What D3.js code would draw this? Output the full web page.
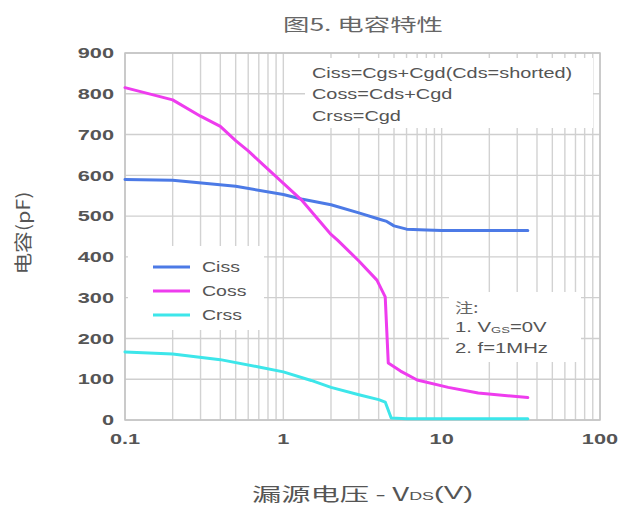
<!DOCTYPE html>
<html><head><meta charset="utf-8">
<script src="https://cdn.jsdelivr.net/npm/d3@7"></script>
<style>
html,body{margin:0;padding:0;background:#fff;}
svg{display:block;}
</style></head>
<body>
<script>
// ---- data ----
const voltage_ciss = [0.1, 0.2, 0.5, 1, 1.3, 2, 3, 4, 4.5, 5, 6, 8, 10, 20, 35];
const ciss =         [590, 588, 573, 553, 542, 528, 508, 493, 487, 476, 468, 466, 465, 465, 465];
const voltage_coss = [0.1, 0.2, 0.3, 0.4, 0.5, 0.6, 0.75, 0.9, 1.3, 2, 2.2, 3, 3.9, 4.4, 4.6, 5.5, 7, 11, 17, 35];
const coss =         [815, 785, 745, 720, 685, 660, 625, 597, 540, 455, 441, 390, 343, 302, 140, 120, 98, 80, 66, 55];
const voltage_crss = [0.1, 0.2, 0.4, 0.7, 1, 1.5, 2, 3, 4, 4.4, 4.8, 6, 35];
const crss =         [167, 162, 148, 130, 118, 97, 80, 62, 50, 44, 5, 3, 3];
const seriesNames = ["Ciss", "Coss", "Crss"];
const xTickValues = [0.1, 1, 10, 100];
const xTickLabels = ["0.1", "1", "10", "100"];
const yTickValues = [0, 100, 200, 300, 400, 500, 600, 700, 800, 900];
const equations = ["Ciss=Cgs+Cgd(Cds=shorted)", "Coss=Cds+Cgd", "Crss=Cgd"];
const title = "图5. 电容特性";
const yLabel = "电容(pF)";

const W = 622, H = 509;
const colors = ["#4c7ae6", "#ee3cee", "#3de6ea"];
const LAT = "'Liberation Sans', Arial, sans-serif";
const CJK = "'Noto Sans CJK SC', 'Liberation Sans', sans-serif";

const svg = d3.select("body").append("svg").attr("width", W).attr("height", H);
const x = d3.scaleLog().domain([0.1, 100]).range([125, 600]);
const y = d3.scaleLinear().domain([0, 900]).range([420, 53]);

// grid
const minor = [];
[0.1, 1, 10].forEach(d => { for (let k = 1; k <= 9; k++) minor.push(+(d * k).toPrecision(3)); });
minor.push(100);
const grid = svg.append("g");
grid.selectAll("line.v").data(minor).join("line")
  .attr("x1", d => x(d)).attr("x2", d => x(d)).attr("y1", y(900)).attr("y2", y(0))
  .attr("stroke", "#d2d2d2").attr("stroke-width", 1.4);
grid.selectAll("line.h").data(yTickValues).join("line")
  .attr("x1", x(0.1)).attr("x2", x(100)).attr("y1", d => y(d)).attr("y2", d => y(d))
  .attr("stroke", "#cfcfcf").attr("stroke-width", 1.4);
svg.append("rect").attr("x", x(0.1)).attr("y", y(900)).attr("width", x(100) - x(0.1)).attr("height", y(0) - y(900))
  .attr("fill", "none").attr("stroke", "#c4c4c4").attr("stroke-width", 1.5);

// white boxes
svg.append("rect").attr("x", 305).attr("y", 58).attr("width", 288).attr("height", 70).attr("fill", "#fff");
svg.append("rect").attr("x", 128).attr("y", 246).attr("width", 136).attr("height", 84).attr("fill", "#fff");
svg.append("rect").attr("x", 449).attr("y", 292).attr("width", 132).attr("height", 70).attr("fill", "#fff");

function stext(g, px, py, str, size, sx, anchor, opts = {}) {
  return g.append("text")
    .attr("transform", `translate(${px},${py}) scale(${sx},1)`)
    .attr("text-anchor", anchor)
    .attr("dominant-baseline", "central")
    .attr("font-family", opts.family || LAT)
    .attr("font-size", size)
    .attr("font-weight", opts.weight || "normal")
    .attr("fill", opts.fill || "#555")
    .text(str);
}

// axis tick labels
const yAxisG = svg.append("g");
yTickValues.forEach(v => stext(yAxisG, 114, y(v), String(v), 15, 1.45, "end", {weight: "bold", fill: "#555"}));
const xAxisG = svg.append("g");
xTickValues.forEach((v, i) => stext(xAxisG, x(v), 439, xTickLabels[i], 15, 1.45, "middle", {weight: "bold", fill: "#555"}));

// lines
const line = d3.line().x(d => x(d[0])).y(d => y(d[1]));
const seriesData = [
  d3.zip(voltage_ciss, ciss),
  d3.zip(voltage_coss, coss),
  d3.zip(voltage_crss, crss)
];
svg.append("g").selectAll("path").data(seriesData).join("path")
  .attr("d", line).attr("fill", "none")
  .attr("stroke", (d, i) => colors[i]).attr("stroke-width", 3)
  .attr("stroke-linejoin", "round").attr("stroke-linecap", "round");

// legend
const lg = svg.append("g");
seriesNames.forEach((n, i) => {
  const ly = 267 + i * 24;
  lg.append("line").attr("x1", 153).attr("x2", 190).attr("y1", ly).attr("y2", ly)
    .attr("stroke", colors[i]).attr("stroke-width", 3);
  stext(lg, 202, ly, n, 15, 1.3, "start", {fill: "#555"});
});

// equations box
const eq = svg.append("g");
equations.forEach((t, i) => stext(eq, 312, 73 + i * 21.5, t, 14, 1.42, "start", {fill: "#555"}));

// note box
const nt = svg.append("g");
stext(nt, 455, 307, "注:", 14, 1.3, "start", {family: CJK, fill: "#666"});
const n1 = nt.append("text").attr("transform", "translate(455,327) scale(1.45,1)")
  .attr("dominant-baseline", "central").attr("font-family", LAT).attr("font-size", 14).attr("fill", "#555");
n1.append("tspan").text("1. V");
n1.append("tspan").attr("font-size", 9).attr("dy", 3).text("GS");
n1.append("tspan").attr("dy", -3).text("=0V");
stext(nt, 455, 348, "2. f=1MHz", 14, 1.45, "start", {fill: "#555"});

// title
svg.append("text").attr("x", 283).attr("y", 23).attr("dominant-baseline", "central")
  .attr("font-family", CJK).attr("font-size", 17).attr("fill", "#666")
  .attr("textLength", 160).attr("lengthAdjust", "spacingAndGlyphs").text(title);

// x label
const xl = svg.append("text").attr("x", 252).attr("y", 493).attr("dominant-baseline", "central")
  .attr("font-family", CJK).attr("font-size", 18).attr("fill", "#555")
  .attr("textLength", 221).attr("lengthAdjust", "spacingAndGlyphs");
xl.append("tspan").text("漏源电压 - V");
xl.append("tspan").attr("font-family", LAT).attr("font-size", 11).attr("dy", 3).text("DS");
xl.append("tspan").attr("font-family", LAT).attr("dy", -3).text("(V)");

// y label
svg.append("text").attr("transform", "translate(22,233) rotate(-90)")
  .attr("text-anchor", "middle").attr("dominant-baseline", "central")
  .attr("font-family", CJK).attr("font-size", 18).attr("fill", "#555")
  .attr("textLength", 83).attr("lengthAdjust", "spacingAndGlyphs").text(yLabel);
</script>
</body></html>
